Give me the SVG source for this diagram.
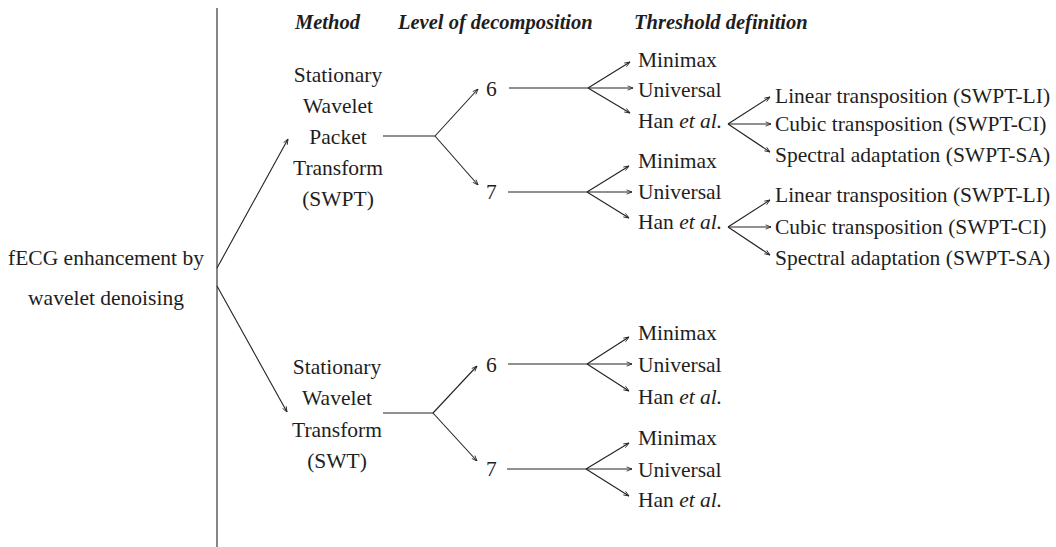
<svg xmlns="http://www.w3.org/2000/svg" width="1056" height="547" viewBox="0 0 1056 547">
<defs>
<marker id="ah" viewBox="0 0 10 10" refX="10" refY="5" markerWidth="6" markerHeight="6" markerUnits="userSpaceOnUse" orient="auto">
<path d="M1,1.5 L10,5 L1,8.5" fill="none" stroke="#222" stroke-width="1.4"/>
</marker>
<style>
text{font-family:"Liberation Serif","Times New Roman",serif;font-size:21.5px;fill:#1e1e1e}
.h{font-weight:bold;font-style:italic;font-size:20.5px}
.c{text-anchor:middle}
.i{font-style:italic}
.l{fill:none;stroke:#222;stroke-width:1.1}
.a{fill:none;stroke:#222;stroke-width:1.1;marker-end:url(#ah)}
</style>
</defs>
<rect width="1056" height="547" fill="#fff"/>

<g id="headers">
<text class="h" x="295" y="29">Method</text>
<text class="h" x="398" y="29">Level of decomposition</text>
<text class="h" x="634" y="29">Threshold definition</text>
</g>

<g id="root">
<text class="c" x="106" y="265">fECG enhancement by</text>
<text class="c" x="106" y="305">wavelet denoising</text>
</g>

<g id="swpt">
<text class="c" x="338" y="82">Stationary</text>
<text class="c" x="338" y="113">Wavelet</text>
<text class="c" x="338" y="144">Packet</text>
<text class="c" x="338" y="175">Transform</text>
<text class="c" x="338" y="206">(SWPT)</text>
</g>
<g id="swt">
<text class="c" x="337" y="374">Stationary</text>
<text class="c" x="337" y="405">Wavelet</text>
<text class="c" x="337" y="437">Transform</text>
<text class="c" x="337" y="468">(SWT)</text>
</g>

<g id="swpt-6"><text x="486" y="96">6</text></g>
<g id="swpt-7"><text x="486" y="199">7</text></g>
<g id="swt-6"><text x="486" y="372">6</text></g>
<g id="swt-7"><text x="486" y="476">7</text></g>

<g id="swpt-6-th">
<text x="638" y="67">Minimax</text>
<text x="638" y="97">Universal</text>
<text x="638" y="128">Han <tspan class="i">et al.</tspan></text>
</g>
<g id="swpt-7-th">
<text x="638" y="168">Minimax</text>
<text x="638" y="199">Universal</text>
<text x="638" y="229">Han <tspan class="i">et al.</tspan></text>
</g>
<g id="swt-6-th">
<text x="638" y="340">Minimax</text>
<text x="638" y="372">Universal</text>
<text x="638" y="404">Han <tspan class="i">et al.</tspan></text>
</g>
<g id="swt-7-th">
<text x="638" y="445">Minimax</text>
<text x="638" y="477">Universal</text>
<text x="638" y="507">Han <tspan class="i">et al.</tspan></text>
</g>

<g id="han6-sub">
<text x="775" y="103">Linear transposition (SWPT-LI)</text>
<text x="775" y="131">Cubic transposition (SWPT-CI)</text>
<text x="775" y="162">Spectral adaptation (SWPT-SA)</text>
</g>
<g id="han7-sub">
<text x="775" y="202">Linear transposition (SWPT-LI)</text>
<text x="775" y="234">Cubic transposition (SWPT-CI)</text>
<text x="775" y="265">Spectral adaptation (SWPT-SA)</text>
</g>

<g id="connectors">
<line class="l" x1="217" y1="8" x2="217" y2="547"/>
<line class="a" x1="217" y1="268" x2="288" y2="139"/>
<line class="a" x1="217" y1="286" x2="287" y2="412"/>

<line class="l" x1="383" y1="136" x2="435" y2="136"/>
<line class="a" x1="435" y1="136" x2="478" y2="89"/>
<line class="a" x1="435" y1="136" x2="478" y2="185"/>

<line class="l" x1="383" y1="413" x2="433" y2="413"/>
<line class="a" x1="433" y1="413" x2="477" y2="366"/>
<line class="a" x1="433" y1="413" x2="477" y2="461"/>

<line class="l" x1="509" y1="88" x2="588" y2="88"/>
<line class="a" x1="588" y1="88" x2="630" y2="62"/>
<line class="a" x1="588" y1="88" x2="633" y2="88"/>
<line class="a" x1="588" y1="88" x2="630" y2="113"/>

<line class="l" x1="508" y1="192" x2="587" y2="192"/>
<line class="a" x1="587" y1="192" x2="629" y2="166"/>
<line class="a" x1="587" y1="192" x2="632" y2="192"/>
<line class="a" x1="587" y1="192" x2="629" y2="218"/>

<line class="l" x1="508" y1="364" x2="587" y2="364"/>
<line class="a" x1="587" y1="364" x2="629" y2="337"/>
<line class="a" x1="587" y1="364" x2="632" y2="364"/>
<line class="a" x1="587" y1="364" x2="629" y2="391"/>

<line class="l" x1="507" y1="469" x2="586" y2="469"/>
<line class="a" x1="586" y1="469" x2="629" y2="443"/>
<line class="a" x1="586" y1="469" x2="632" y2="469"/>
<line class="a" x1="586" y1="469" x2="629" y2="496"/>

<line class="a" x1="728" y1="124" x2="770" y2="97"/>
<line class="a" x1="728" y1="124" x2="771" y2="124"/>
<line class="a" x1="728" y1="124" x2="770" y2="152"/>

<line class="a" x1="728" y1="227" x2="770" y2="200"/>
<line class="a" x1="728" y1="227" x2="771" y2="227"/>
<line class="a" x1="728" y1="227" x2="770" y2="255"/>
</g>
</svg>
